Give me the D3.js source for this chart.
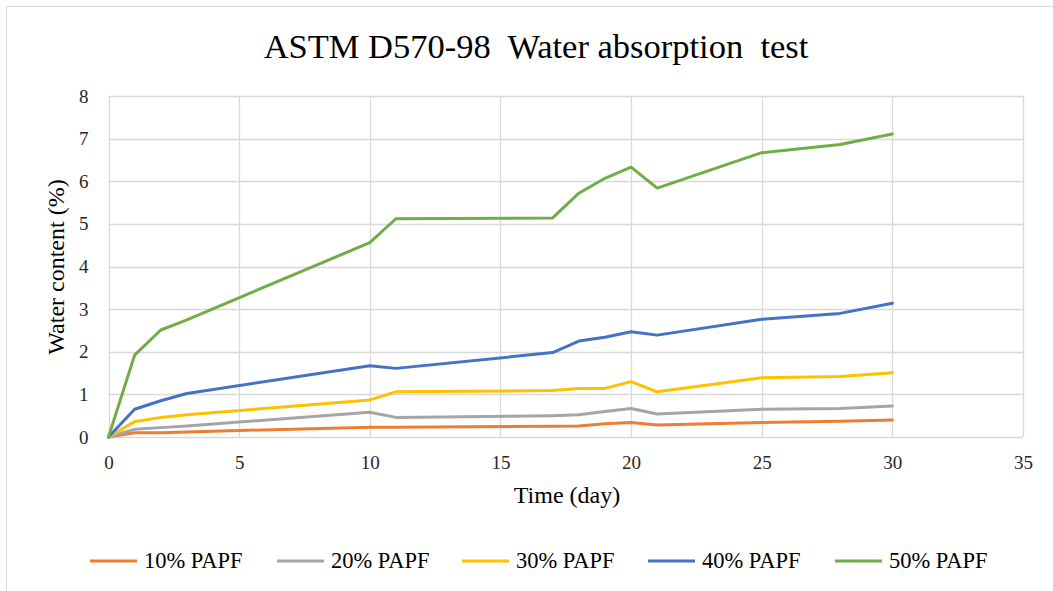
<!DOCTYPE html>
<html>
<head>
<meta charset="utf-8">
<script src="https://cdn.jsdelivr.net/npm/d3@7"></script>
<style>
  body { margin: 0; background: #fff; }
  svg { display: block; }
  svg text { font-family: "Liberation Serif", "Times New Roman", serif !important; }
</style>
</head>
<body>
<svg id="chart" width="1053" height="591"></svg>
<script>
const days = [0, 1, 2, 3, 10, 11, 17, 18, 19, 20, 21, 25, 28, 30];
const seriesNames = ["10% PAPF", "20% PAPF", "30% PAPF", "40% PAPF", "50% PAPF"];
const papf10 = [0, 0.10, 0.10, 0.12, 0.23, 0.23, 0.25, 0.26, 0.31, 0.34, 0.28, 0.34, 0.37, 0.40];
const papf20 = [0, 0.18, 0.22, 0.26, 0.58, 0.46, 0.50, 0.52, 0.60, 0.67, 0.54, 0.65, 0.67, 0.73];
const papf30 = [0, 0.36, 0.46, 0.52, 0.87, 1.06, 1.09, 1.14, 1.14, 1.30, 1.06, 1.39, 1.42, 1.51];
const papf40 = [0, 0.65, 0.85, 1.02, 1.67, 1.61, 1.98, 2.25, 2.34, 2.47, 2.39, 2.76, 2.90, 3.14];
const papf50 = [0, 1.92, 2.51, 2.75, 4.56, 5.12, 5.14, 5.72, 6.07, 6.33, 5.84, 6.67, 6.86, 7.11];
const xTicks = [0, 5, 10, 15, 20, 25, 30, 35];
const yTicks = [0, 1, 2, 3, 4, 5, 6, 7, 8];
const colors = ["#ED7D31", "#A5A5A5", "#FFC000", "#4472C4", "#70AD47"];
const allSeries = [papf10, papf20, papf30, papf40, papf50];

const svg = d3.select("#chart");

// outer chart border
svg.append("rect").attr("x", 6.5).attr("y", 6.5).attr("width", 1060).attr("height", 600)
  .attr("fill", "#fff").attr("stroke", "#d9d9d9").attr("stroke-width", 1);

const pLeft = 108.5, pRight = 1023, pTop = 96, pBottom = 437;
const x = d3.scaleLinear().domain([0, 35]).range([pLeft, pRight]);
const y = d3.scaleLinear().domain([0, 8]).range([pBottom, pTop]);

// gridlines
const g = svg.append("g");
g.selectAll(".hg").data(yTicks).join("line")
  .attr("x1", pLeft).attr("x2", pRight)
  .attr("y1", d => Math.round(y(d)) + 0.5).attr("y2", d => Math.round(y(d)) + 0.5)
  .attr("stroke", "#d9d9d9").attr("stroke-width", 1.3);
g.selectAll(".vg").data(xTicks).join("line")
  .attr("y1", pTop).attr("y2", pBottom)
  .attr("x1", d => Math.round(x(d)) + 0.5).attr("x2", d => Math.round(x(d)) + 0.5)
  .attr("stroke", "#d9d9d9").attr("stroke-width", 1.3);

// axes labels via d3 axes
const xAxis = svg.append("g").attr("transform", `translate(0,${pBottom})`)
  .call(d3.axisBottom(x).tickValues(xTicks).tickSize(0).tickPadding(19));
xAxis.select(".domain").remove();
xAxis.attr("font-size", 19);
xAxis.selectAll("text").attr("fill", "#262626");

const yAxis = svg.append("g").attr("transform", `translate(${pLeft},0)`)
  .call(d3.axisLeft(y).tickValues(yTicks).tickSize(0).tickPadding(20));
yAxis.select(".domain").remove();
yAxis.attr("font-size", 19);
yAxis.selectAll("text").attr("fill", "#262626");

// lines
const line = d3.line().x((d, i) => x(days[i])).y(d => y(d));
allSeries.forEach((s, i) => {
  svg.append("path").datum(s).attr("d", line)
    .attr("fill", "none").attr("stroke", colors[i]).attr("stroke-width", 3)
    .attr("stroke-linejoin", "round").attr("stroke-linecap", "round");
});

// title
svg.append("text").attr("x", 536).attr("y", 58).attr("text-anchor", "middle")
  .attr("font-size", 34.5).attr("fill", "#000")
  .attr("style", "white-space: pre")
  .text("ASTM D570-98  Water absorption  test");

// axis titles
svg.append("text").attr("x", 567).attr("y", 503).attr("text-anchor", "middle")
  .attr("font-size", 24).attr("fill", "#000").text("Time (day)");
svg.append("text").attr("transform", "translate(64,267) rotate(-90)")
  .attr("text-anchor", "middle").attr("font-size", 24).attr("fill", "#000")
  .text("Water content (%)");

// legend
const legendX = [90, 277, 462, 648, 835];
const lg = svg.append("g");
seriesNames.forEach((name, i) => {
  lg.append("line").attr("x1", legendX[i]).attr("x2", legendX[i] + 47)
    .attr("y1", 561).attr("y2", 561).attr("stroke", colors[i]).attr("stroke-width", 3);
  lg.append("text").attr("x", legendX[i] + 54).attr("y", 568)
    .attr("font-size", 22.5).attr("fill", "#000").text(name);
});
</script>
</body>
</html>
